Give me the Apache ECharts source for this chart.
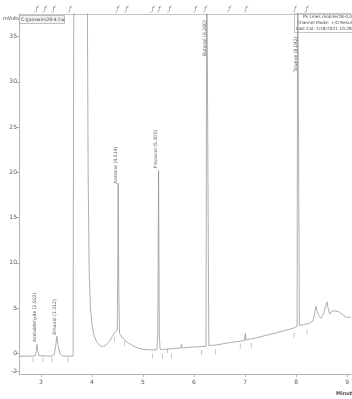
<!DOCTYPE html>
<html>
<head>
<meta charset="utf-8">
<style>
  html, body { margin: 0; padding: 0; background: #fff; }
  #chart { width: 352px; height: 399px; }
</style>
<script src="https://cdn.jsdelivr.net/npm/echarts@6/dist/echarts.min.js"></script>
</head>
<body>
<div id="chart"></div>
<script>
// Detector trace: retention time (min) and signal (mV)
const times = [
  2.57, 2.80, 2.89, 2.905, 2.922, 2.94, 2.96, 3.20, 3.26, 3.29, 3.312, 3.335, 3.37, 3.42, 3.50,
  3.63, 3.645, 3.905, 3.925, 3.945, 3.97, 4.00, 4.04, 4.09, 4.15, 4.21, 4.28, 4.35, 4.40, 4.445,
  4.475, 4.495, 4.505, 4.514, 4.525, 4.54, 4.60, 4.70, 4.80, 4.90, 5.00, 5.15, 5.27, 5.29, 5.305,
  5.32, 5.335, 5.45, 5.60, 5.74, 5.755, 5.77, 5.95, 6.15, 6.235, 6.25, 6.27, 6.29, 6.45, 6.70,
  6.90, 6.99, 7.005, 7.02, 7.20, 7.45, 7.70, 7.95, 8.02, 8.032, 8.052, 8.065, 8.15, 8.25, 8.33,
  8.36, 8.39, 8.415, 8.44, 8.49, 8.54, 8.58, 8.605, 8.625, 8.66, 8.71, 8.74, 8.77, 8.84, 8.98, 9.074
];
const signal = [
  -0.3, -0.3, -0.25, 0.2, 1.0, 0.2, -0.25, -0.3, -0.1, 0.9, 1.9, 0.9, 0.0, -0.25, -0.3,
  -0.3, 45, 45, 20, 9, 5, 3.2, 2.0, 1.3, 0.9, 0.75, 0.95, 1.4, 1.9, 2.3,
  2.1, 2.6, 9, 18.8, 7, 2.2, 1.7, 1.2, 0.85, 0.6, 0.45, 0.4, 0.4, 2.0, 20.2,
  2.0, 0.45, 0.45, 0.55, 0.6, 1.0, 0.6, 0.7, 0.75, 0.8, 45, 45, 0.85, 0.95, 1.2,
  1.35, 1.45, 2.2, 1.5, 1.7, 2.05, 2.4, 2.8, 3.0, 45, 45, 3.1, 3.2, 3.3, 3.6,
  4.3, 5.2, 4.7, 4.2, 3.9, 4.4, 5.2, 5.7, 5.1, 4.35, 4.7, 4.9, 4.7, 4.6, 4.0, 4.0
];

// Named peaks
const peakNames = ['Acetaldehyde', 'Ethanol', 'Acetone', 'Propanol', 'Butanol', 'Toluene'];
const peakTimes = [2.922, 3.312, 4.514, 5.305, 6.26, 8.042];
const peakLabelLevels = [1.2, 2.0, 18.7, 20.4, 32.8, 31.0];

// Integration start/stop marks
const markTimes = [2.844, 3.039, 3.215, 3.527, 4.445, 4.641, 5.188, 5.383, 5.48, 5.559, 6.145, 6.418, 6.906, 7.004, 7.121, 7.961, 8.215];
const markLevels = [-0.7, -0.7, -0.7, -0.7, 1.6, 1.1, -0.3, -0.3, 0.3, -0.3, 0.1, 0.2, 0.8, 1.7, 0.9, 2.0, 2.4];

// Timed events along the top edge
const eventTimes = [2.92, 3.08, 3.25, 3.57, 4.50, 4.68, 5.19, 5.32, 5.52, 6.03, 6.22, 6.69, 7.02, 7.98, 8.21];

// Axis ticks
const xTicks = [3, 4, 5, 6, 7, 8, 9];
const yTicks = [-2, 0, 5, 10, 15, 20, 25, 30, 35];

const X_MIN = 2.57, X_MAX = 9.074, Y_MIN = -2.27, Y_MAX = 37.5;

const chart = echarts.init(document.getElementById('chart'), null, { renderer: 'canvas' });

const axisGray = '#b4b4b4';
const textGray = '#5a5a5a';

chart.setOption({
  animation: false,
  backgroundColor: '#ffffff',
  grid: { left: 19, right: 0, top: 14, bottom: 25 },
  xAxis: [
    {
      type: 'value', min: X_MIN, max: X_MAX, position: 'bottom',
      axisLine: { show: true, onZero: false, lineStyle: { color: axisGray, width: 1 } },
      axisTick: { show: true, length: 3, customValues: xTicks, lineStyle: { color: axisGray } },
      axisLabel: { customValues: xTicks, fontSize: 6, color: textGray, margin: 5, fontFamily: 'DejaVu Sans' },
      splitLine: { show: false }
    },
    {
      type: 'value', min: X_MIN, max: X_MAX, position: 'top',
      axisLine: { show: true, onZero: false, lineStyle: { color: '#c4c4c4', width: 1 } },
      axisTick: { show: false },
      axisLabel: {
        customValues: eventTimes, formatter: () => 'ƒ',
        fontSize: 7, fontStyle: 'italic', color: '#8a8a8a', margin: 1, fontFamily: 'DejaVu Serif'
      },
      splitLine: { show: false }
    }
  ],
  yAxis: {
    type: 'value', min: Y_MIN, max: Y_MAX,
    axisLine: { show: true, onZero: false, lineStyle: { color: axisGray, width: 1 } },
    axisTick: { show: true, length: 3, customValues: yTicks, lineStyle: { color: axisGray } },
    axisLabel: { customValues: yTicks, fontSize: 6, color: textGray, margin: 2, fontFamily: 'DejaVu Sans' },
    splitLine: { show: false }
  },
  series: [
    {
      type: 'line',
      data: times.map((t, i) => [t, signal[i]]),
      showSymbol: false,
      smooth: false,
      sampling: null,
      clip: true,
      lineStyle: { color: '#8c8c8c', width: 0.7 },
      z: 2
    },
    {
      type: 'scatter',
      data: markTimes.map((t, i) => [t, markLevels[i]]),
      symbol: 'rect',
      symbolSize: [0.8, 5],
      itemStyle: { color: '#a8a8a8' },
      z: 3
    },
    {
      type: 'scatter',
      data: peakTimes.map((t, i) => [t, peakLabelLevels[i]]),
      symbolSize: 1,
      itemStyle: { color: 'rgba(0,0,0,0)' },
      label: {
        show: true,
        formatter: (p) => peakNames[p.dataIndex] + ' (' + peakTimes[p.dataIndex].toFixed(3) + ')',
        rotate: 90,
        align: 'left',
        verticalAlign: 'middle',
        position: [-2, 0],
        fontSize: 4.6,
        color: '#2e2e2e',
        fontFamily: 'DejaVu Sans'
      },
      z: 4
    }
  ],
  graphic: [
    { type: 'text', left: 3, top: 16, style: { text: 'mVolts', fontSize: 5, fill: '#4a4a4a', fontFamily: 'DejaVu Sans' } },
    { type: 'rect', shape: { x: 19.5, y: 15.5, width: 45, height: 8 }, style: { fill: '#f3f3f3', stroke: '#9a9a9a', lineWidth: 0.6 } },
    { type: 'text', left: 21, top: 17, style: { text: 'C:\\Janswin\\28-4.f.w', fontSize: 4.6, fill: '#4a4a4a', fontFamily: 'DejaVu Sans' } },
    { type: 'rect', shape: { x: 294.5, y: 13.5, width: 60, height: 19 }, style: { fill: '#ffffff', stroke: '#a0a0a0', lineWidth: 0.6 } },
    { type: 'text', left: 303, top: 14.5, style: { text: 'Pk Lines mobile(28-4,4694 u', fontSize: 4.3, fill: '#4a4a4a', fontFamily: 'DejaVu Sans' } },
    { type: 'text', left: 297, top: 20.5, style: { text: 'Channel Mode: +/O Result', fontSize: 4.3, fill: '#4a4a4a', fontFamily: 'DejaVu Sans' } },
    { type: 'text', left: 296, top: 26.5, style: { text: 'Last Cal: 2/18/2021 10:28', fontSize: 4.3, fill: '#4a4a4a', fontFamily: 'DejaVu Sans' } },
    { type: 'text', left: 336, top: 391, style: { text: 'Minutes', fontSize: 5, fontWeight: 'bold', fill: '#4a4a4a', fontFamily: 'DejaVu Sans' } }
  ]
});
</script>
</body>
</html>
